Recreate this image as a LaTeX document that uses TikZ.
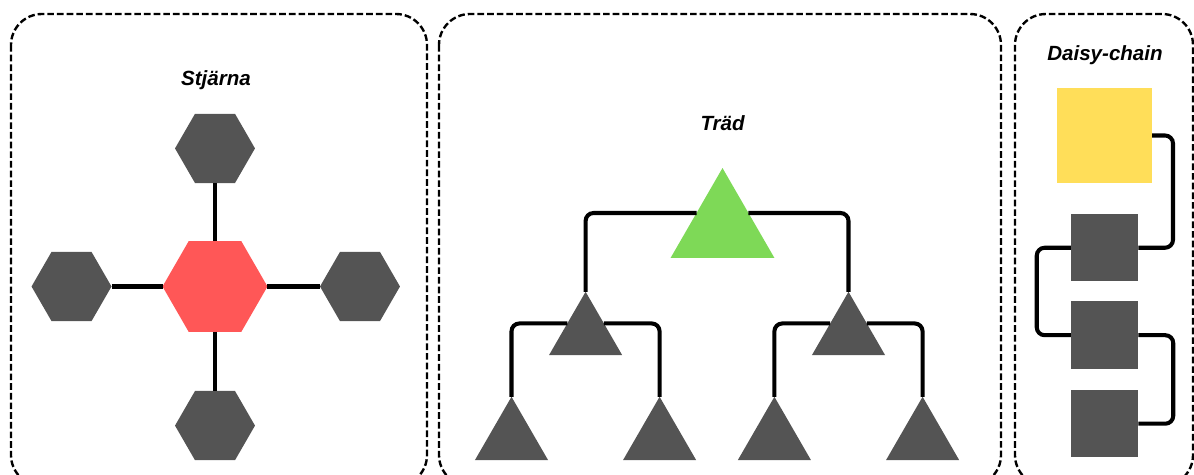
\documentclass[tikz,border=0pt]{standalone}
\usepackage{fontspec}
\setmainfont{Liberation Sans}
\usetikzlibrary{positioning,shapes.geometric}
\definecolor{darkgr}{HTML}{545454}
\definecolor{hexred}{HTML}{FF5757}
\definecolor{leafgreen}{HTML}{7ED957}
\definecolor{chainyellow}{HTML}{FFDE59}
\tikzset{
  panel/.style={draw=black, line width=1.35pt, dash pattern=on 3.8pt off 1.7pt,
    rounded corners=0.62cm},
  title/.style={font=\fontsize{11.7}{14}\selectfont\bfseries\itshape, anchor=base},
  hexa/.style={regular polygon, regular polygon sides=6, minimum size=1.6cm,
    fill=darkgr, inner sep=0pt, outer sep=0pt},
  tri/.style={regular polygon, regular polygon sides=3, minimum size=1.69cm,
    fill=darkgr, inner sep=0pt, outer sep=0pt},
  sq/.style={rectangle, minimum size=1.35cm, fill=darkgr, inner sep=0pt, outer sep=0pt},
  link/.style={draw=black, line width=2.3pt, rounded corners=4.5pt},
}
\begin{document}
\begin{tikzpicture}[x=0.02cm,y=-0.02cm]
   \useasboundingbox (0,0) rectangle (1194,474);

   \draw[panel] (11,14) rectangle (427,486);
   \draw[panel] (439,14) rectangle (1001,486);
   \draw[panel] (1015,14) rectangle (1193,486);

   \node[title] (ts) at (216,85) {Stjärna};
   \node[hexa, fill=hexred, minimum size=2.1cm] (hc) at (215,286.5) {};
   \node[hexa, above=1.16cm of hc] (ht) {};
   \node[hexa, below=1.18cm of hc] (hb) {};
   \node[hexa, left=1.02cm of hc] (hl) {};
   \node[hexa, right=1.05cm of hc] (hr) {};

   \draw[link] (hc) -- (ht);
   \draw[link] (hc) -- (hb);
   \draw[link] (hc) -- (hl);
   \draw[link] (hc) -- (hr);

   \node[title] (tt) at (722.6,130.5) {Träd};
   \node[tri, fill=leafgreen, minimum size=2.4cm] (t0) at (722.5,228) {};
   \node[tri] (t1) at (585.6,334) {};
   \node[tri] (t2) at (848.5,334) {};
   \node[tri] (t11) at (511.5,439) {};
   \node[tri] (t12) at (659.6,439) {};
   \node[tri] (t21) at (774.4,439) {};
   \node[tri] (t22) at (922.6,439) {};

   \draw[link] (t0.side 1) -| (t1.corner 1);
   \draw[link] (t0.side 3) -| (t2.corner 1);
   \draw[link] (t1.side 1) -| (t11.corner 1);
   \draw[link] (t1.side 3) -| (t12.corner 1);
   \draw[link] (t2.side 1) -| (t21.corner 1);
   \draw[link] (t2.side 3) -| (t22.corner 1);

   \node[title] (td) at (1105,60) {Daisy-chain};
   \node[sq, fill=chainyellow, minimum size=1.9cm] (d0) at (1104.5,135.5) {};
   \node[sq, below=0.62cm of d0] (d1) {};
   \node[sq, below=0.4cm of d1] (d2) {};
   \node[sq, below=0.42cm of d2] (d3) {};

   \draw[link] (d0.east) -- ++(21,0) |- (d1.east);
   \draw[link] (d1.west) -- ++(-34,0) |- (d2.west);
   \draw[link] (d2.east) -- ++(35,0) |- (d3.east);
\end{tikzpicture}
\end{document}
